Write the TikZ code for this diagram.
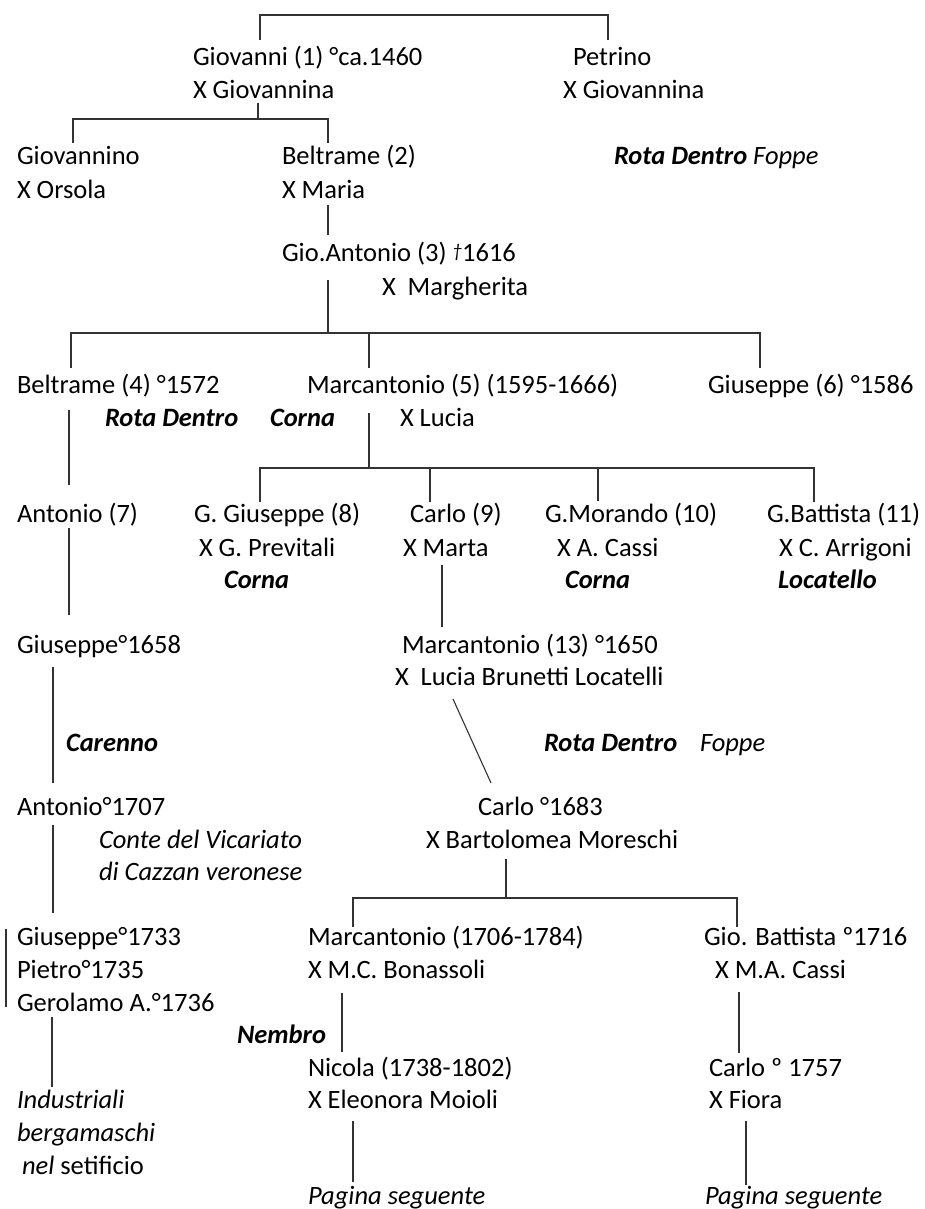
\documentclass[tikz,border=0pt]{standalone}
\usepackage{fontspec}
\setmainfont{Carlito}
\newcommand\treefont{\fontsize{26.5}{33}\selectfont}
\newcommand\obit{\raisebox{0.15em}{\fontsize{19}{19}\selectfont\itshape †}}
\begin{document}
\begin{tikzpicture}[x=1pt,y=-1pt,
  lbl/.style={anchor=base west, inner sep=0pt, outer sep=0pt, font=\treefont},
  place/.style={lbl, font=\treefont\bfseries\itshape},
  note/.style={lbl, font=\treefont\itshape},
  link/.style={draw=black!80, line width=1.1pt}]
\useasboundingbox (0,0) rectangle (924,1209);

% ---------- people and notes (base line = visual centre + 8) ----------
\node[lbl] (giov)  at (193,66)  {Giovanni (1) °ca.1460};
\node[lbl] (giovx) at (193,99)  {X Giovannina};
\node[lbl] (petr)  at (573,66)  {Petrino};
\node[lbl] (petrx) at (563,99)  {X Giovannina};

\node[lbl] (gnino)  at (17,165)  {Giovannino};
\node[lbl] (gninox) at (17,198)  {X Orsola};
\node[lbl] (belt2)  at (282,165) {Beltrame (2)};
\node[lbl] (belt2x) at (282,198) {X Maria};
\node[lbl] (rota1)  at (614,165) {\bfseries\itshape Rota Dentro \mdseries Foppe};

\node[lbl] (gioant)  at (282,261) {Gio.Antonio (3) \obit1616};
\node[lbl] (gioantx) at (382,295) {X\ \ Margherita};

\node[lbl]   (belt4)  at (17,393)  {Beltrame (4) °1572};
\node[place] (rota2)  at (105,426) {Rota Dentro};
\node[lbl]   (marc5)  at (307,393) {Marcantonio (5) (1595-1666)};
\node[place] (corna1) at (270,426) {Corna};
\node[lbl]   (marc5x) at (400,426) {X Lucia};
\node[lbl]   (gius6)  at (708,393) {Giuseppe (6) °1586};

\node[lbl]   (ant7)   at (17,522)  {Antonio (7)};
\node[lbl]   (gg8)    at (194,522) {G. Giuseppe (8)};
\node[lbl]   (gg8x)   at (199,556) {X G. Previtali};
\node[place] (corna2) at (224,588) {Corna};
\node[lbl]   (carlo9) at (410,522) {Carlo (9)};
\node[lbl]   (carlo9x) at (403,556) {X Marta};
\node[lbl]   (gm10)   at (545,522) {G.Morando (10)};
\node[lbl]   (gm10x)  at (557,556) {X A. Cassi};
\node[place] (corna3) at (565,588) {Corna};
\node[lbl]   (gb11)   at (767,522) {G.Battista (11)};
\node[lbl]   (gb11x)  at (779,556) {X C. Arrigoni};
\node[place] (locat)  at (778,588) {Locatello};

\node[lbl]   (gius1658) at (17,653)  {Giuseppe°1658};
\node[lbl]   (marc13)   at (402,653) {Marcantonio (13) °1650};
\node[lbl]   (marc13x)  at (395,685) {X\ \ Lucia Brunetti Locatelli};
\node[place] (carenno)  at (66,751)  {Carenno};
\node[place] (rota3)    at (544,751) {Rota Dentro};
\node[note]  (foppe3)   at (700,751) {Foppe};

\node[lbl]  (ant1707)  at (17,815)  {Antonio°1707};
\node[note] (conte1)   at (99,848)  {Conte del Vicariato};
\node[note] (conte2)   at (99,880)  {di Cazzan veronese};
\node[lbl]  (carlo1683)  at (478,815) {Carlo °1683};
\node[lbl]  (carlo1683x) at (426,848) {X Bartolomea Moreschi};

\node[lbl] (gius1733) at (17,945)  {Giuseppe°1733};
\node[lbl] (pietro)   at (17,978)  {Pietro°1735};
\node[lbl] (gerol)    at (17,1011) {Gerolamo A.°1736};
\node[lbl] (marc1706)  at (308,945) {Marcantonio (1706-1784)};
\node[lbl] (marc1706x) at (308,978) {X M.C. Bonassoli};
\node[lbl] (gb1716)    at (704,945) {Gio. Battista º1716};
\node[lbl] (gb1716x)   at (715,978) {X M.A. Cassi};

\node[place] (nembro) at (237,1043) {Nembro};
\node[lbl] (nicola)   at (308,1076) {Nicola (1738-1802)};
\node[lbl] (nicolax)  at (308,1108) {X Eleonora Moioli};
\node[lbl] (carlo1757)  at (709,1076) {Carlo º 1757};
\node[lbl] (carlo1757x) at (709,1108) {X Fiora};

\node[note] (ind1) at (17,1108) {Industriali};
\node[note] (ind2) at (17,1141) {bergamaschi};
\node[lbl]  (ind3) at (22,1174) {\itshape nel\upshape{} setificio};

\node[note] (next1) at (308,1204) {Pagina seguente};
\node[note] (next2) at (705,1204) {Pagina seguente};

% ---------- junction points of the tree ----------
\coordinate (r1) at (260,40);  \coordinate (r2) at (608,40);
\coordinate (rtop) at (260,15);
\coordinate (s0) at (258,103); \coordinate (s0b) at (258,119);
\coordinate (s1) at (73,143);  \coordinate (s2) at (328,143);
\coordinate (m0) at (328,205); \coordinate (m1) at (328,235);
\coordinate (k0) at (328,280); \coordinate (k0b) at (328,333);
\coordinate (k1) at (71,368);  \coordinate (k2) at (369,368); \coordinate (k3) at (760,368);
\coordinate (b0) at (69,410);  \coordinate (b1) at (69,485);
\coordinate (n0) at (369,413); \coordinate (n0b) at (369,468);
\coordinate (n1) at (260,502); \coordinate (n2) at (430,502);
\coordinate (n3) at (598,501); \coordinate (n4) at (814,502);
\coordinate (a0) at (69,528);  \coordinate (a1) at (69,615);
\coordinate (c0) at (442,565); \coordinate (c1) at (442,627);
\coordinate (g0) at (53,667);  \coordinate (g1) at (53,783);
\coordinate (d0) at (453,699); \coordinate (d1) at (491,783);
\coordinate (h0) at (53,825);  \coordinate (h1) at (53,913);
\coordinate (q0) at (506,859); \coordinate (q0b) at (506,898);
\coordinate (q1) at (353,927); \coordinate (q2) at (737,927);
\coordinate (v0) at (6,929);   \coordinate (v1) at (6,1007);
\coordinate (w0) at (52,1017); \coordinate (w1) at (52,1087);
\coordinate (x0) at (342,993); \coordinate (x1) at (342,1052);
\coordinate (y0) at (739,992); \coordinate (y1) at (739,1053);
\coordinate (z0) at (353,1121); \coordinate (z1) at (353,1182);
\coordinate (u0) at (746,1121); \coordinate (u1) at (746,1185);

% ---------- connectors ----------
\draw[link] (r1) |- (rtop) -| (r2);
\draw[link] (s0) -- (s0b);
\draw[link] (s1) |- (s0b) -| (s2);
\draw[link] (m0) -- (m1);
\draw[link] (k0) -- (k0b);
\draw[link] (k1) |- (k0b) -| (k3);
\draw[link] (k2) -- (k2 |- k0b);
\draw[link] (b0) -- (b1);
\draw[link] (n0) -- (n0b);
\draw[link] (n1) |- (n0b) -| (n4);
\draw[link] (n2) -- (n2 |- n0b);
\draw[link] (n3) -- (n3 |- n0b);
\draw[link] (a0) -- (a1);
\draw[link] (c0) -- (c1);
\draw[link] (g0) -- (g1);
\draw[link] (d0) -- (d1);
\draw[link] (h0) -- (h1);
\draw[link] (q0) -- (q0b);
\draw[link] (q1) |- (q0b) -| (q2);
\draw[link] (v0) -- (v1);
\draw[link] (w0) -- (w1);
\draw[link] (x0) -- (x1);
\draw[link] (y0) -- (y1);
\draw[link] (z0) -- (z1);
\draw[link] (u0) -- (u1);
\end{tikzpicture}
\end{document}
